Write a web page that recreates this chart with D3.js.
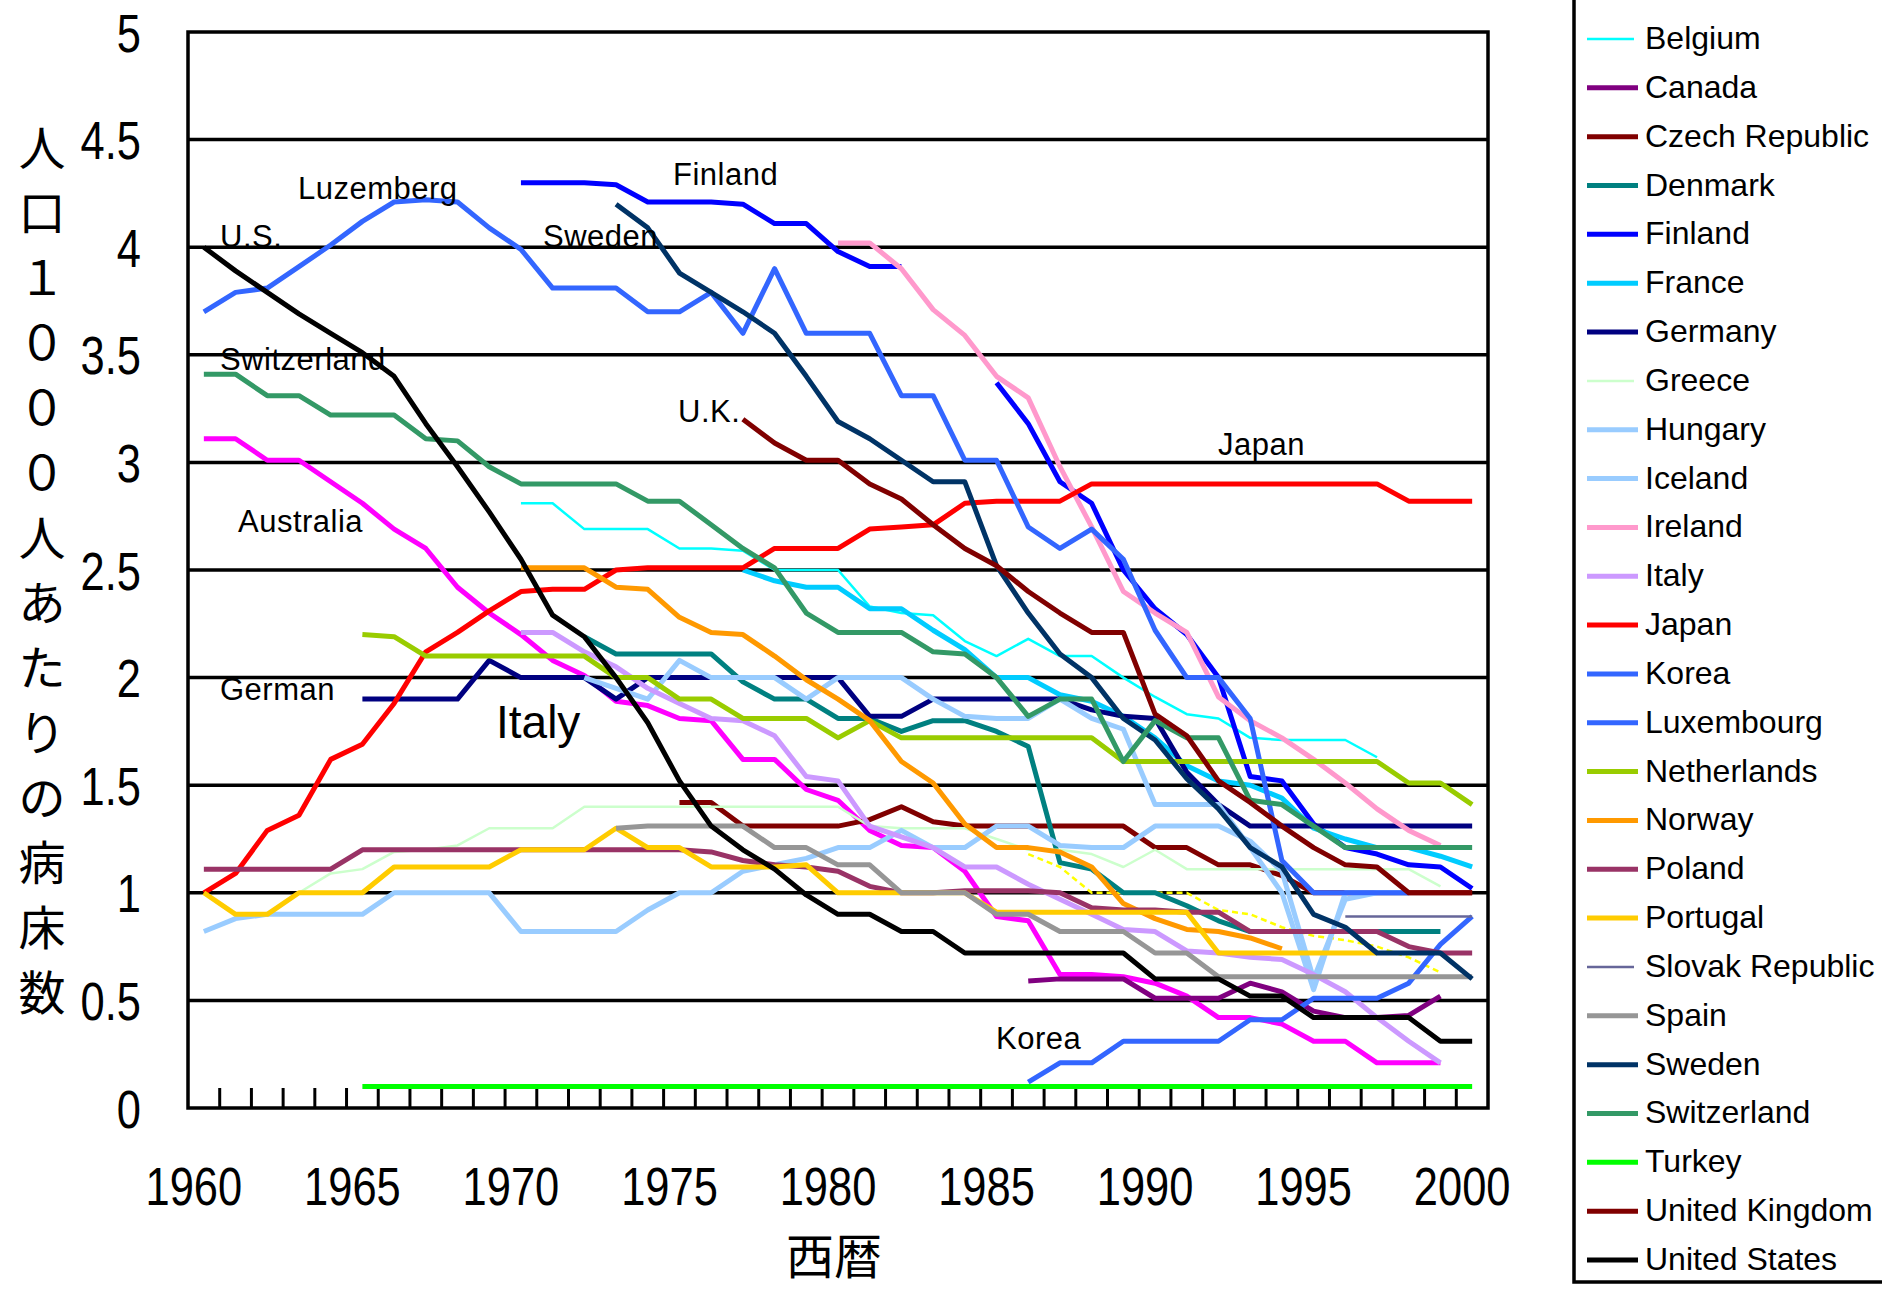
<!DOCTYPE html>
<html><head><meta charset="utf-8">
<script src="https://cdn.jsdelivr.net/npm/d3@7"></script>
<style>body{margin:0;background:#fff}svg{display:block}</style>
</head><body>
<svg id="chart" width="1882" height="1291"></svg>
<script>
// ---------- categories & ticks ----------
const years = d3.range(1960, 2001);
const yTickValues = [0,0.5,1,1.5,2,2.5,3,3.5,4,4.5,5];
const yTickLabels = ["0","0.5","1","1.5","2","2.5","3","3.5","4","4.5","5"];
const xTickYears = [1960,1965,1970,1975,1980,1985,1990,1995,2000];
const xTickLabels = ["1960","1965","1970","1975","1980","1985","1990","1995","2000"];
const yTitle = ["人","口","１","０","０","０","人","あ","た","り","の","病","床","数"];
const xTitle = "西暦";

// ---------- series values (beds per 1000) ----------
const australia = [3.11,3.11,3.01,3.01,2.91,2.81,2.69,2.6,2.42,2.3,2.2,2.08,2.01,1.89,1.87,1.81,1.8,1.62,1.62,1.48,1.43,1.29,1.22,1.21,1.1,0.89,0.87,0.62,0.62,0.61,0.58,0.52,0.42,0.42,0.39,0.31,0.31,0.21,0.21,0.21];
const austria = [1.18,1.12,1.0,1.0,1.0,1.0,0.92,0.9,0.84,0.8,0.78,0.75,0.7,0.63];
const belgium = [2.81,2.81,2.69,2.69,2.69,2.6,2.6,2.59,2.5,2.5,2.5,2.33,2.3,2.29,2.17,2.1,2.18,2.1,2.1,2.0,1.91,1.83,1.81,1.72,1.71,1.71,1.71,1.63];
const canada = [0.59,0.6,0.6,0.6,0.51,0.51,0.51,0.58,0.54,0.45,0.42,0.42,0.43,0.52];
const czech = [1.42,1.42,1.31,1.31,1.31,1.31,1.34,1.4,1.33,1.31,1.31,1.31,1.31,1.31,1.31,1.21,1.21,1.13,1.13,1.08,1.0,1.0,1.0,1.0,1.0,1.0];
const denmark = [2.19,2.11,2.11,2.11,2.11,1.98,1.9,1.9,1.81,1.81,1.75,1.8,1.8,1.75,1.68,1.14,1.11,1.0,1.0,0.94,0.87,0.82,0.82,0.82,0.82,0.82,0.82,0.82];
const finland = [4.3,4.3,4.3,4.29,4.21,4.21,4.21,4.2,4.11,4.11,3.98,3.91,3.91,null,null,3.37,3.18,2.91,2.81,2.5,2.32,2.2,2.0,1.54,1.52,1.32,1.21,1.18,1.13,1.12,1.02];
const france = [2.5,2.45,2.42,2.42,2.32,2.32,2.22,2.13,2.0,2.0,1.92,1.89,1.82,1.72,1.59,1.52,1.5,1.44,1.3,1.25,1.21,1.21,1.17,1.12];
const germany = [1.9,1.9,1.9,1.9,2.08,2.0,2.0,2.0,1.9,2.0,2.0,2.0,2.0,2.0,2.0,2.0,1.82,1.82,1.9,1.9,1.9,1.9,1.9,1.85,1.82,1.81,1.56,1.41,1.31,1.31,1.31,1.31,1.31,1.31,1.31,1.31];
const greece = [1.0,1.09,1.11,1.19,1.2,1.22,1.3,1.3,1.3,1.4,1.4,1.4,1.4,1.4,1.4,1.4,1.4,1.4,1.31,1.3,1.3,1.3,1.25,1.2,1.2,1.18,1.12,1.2,1.11,1.11,1.11,1.11,1.11,1.11,1.11,1.11,1.03];
const hungary = [0.82,0.88,0.9,0.9,0.9,0.9,1.0,1.0,1.0,1.0,0.82,0.82,0.82,0.82,0.92,1.0,1.0,1.1,1.13,1.16,1.21,1.21,1.29,1.21,1.21,1.31,1.31,1.22,1.21,1.21,1.31,1.31,1.31,1.24,1.1,0.6,0.97,1.0,1.0];
const iceland = [2.0,1.95,1.9,2.08,2.0,2.0,2.0,1.9,2.0,2.0,2.0,1.9,1.82,1.81,1.81,1.9,1.81,1.76,1.41,1.41,1.41,1.21,1.0,0.55,1.0,1.0,1.0];
const ireland = [4.02,4.02,3.9,3.71,3.59,3.4,3.3,2.98,2.7,2.4,2.3,2.21,1.91,1.8,1.72,1.62,1.51,1.39,1.29,1.22];
const italy = [2.21,2.21,2.12,2.05,1.95,1.88,1.81,1.8,1.73,1.54,1.52,1.31,1.26,1.21,1.12,1.12,1.04,0.97,0.9,0.83,0.82,0.73,0.72,0.7,0.69,0.62,0.54,0.42,0.31,0.21];
const japan = [1.0,1.09,1.29,1.36,1.62,1.69,1.88,2.12,2.21,2.31,2.4,2.41,2.41,2.5,2.51,2.51,2.51,2.51,2.6,2.6,2.6,2.69,2.7,2.71,2.81,2.82,2.82,2.82,2.9,2.9,2.9,2.9,2.9,2.9,2.9,2.9,2.9,2.9,2.82,2.82,2.82];
const korea = [0.12,0.21,0.21,0.31,0.31,0.31,0.31,0.41,0.41,0.51,0.51,0.51,0.58,0.76,0.89];
const luxembourg = [3.7,3.79,3.81,3.91,4.01,4.12,4.21,4.22,4.21,4.09,3.99,3.81,3.81,3.81,3.7,3.7,3.79,3.6,3.9,3.6,3.6,3.6,3.31,3.31,3.01,3.01,2.7,2.6,2.69,2.55,2.22,2.0,2.0,1.81,1.15,1.0,1.0,1.0,1.0];
const netherlands = [2.2,2.19,2.1,2.1,2.1,2.1,2.1,2.1,2.0,2.0,1.9,1.9,1.81,1.81,1.81,1.72,1.8,1.72,1.72,1.72,1.72,1.72,1.72,1.72,1.61,1.61,1.61,1.61,1.61,1.61,1.61,1.61,1.61,1.51,1.51,1.41];
const norway = [2.51,2.51,2.51,2.42,2.41,2.28,2.21,2.2,2.1,1.99,1.9,1.8,1.61,1.51,1.32,1.21,1.21,1.19,1.12,0.95,0.88,0.83,0.82,0.79,0.74];
const poland = [1.11,1.11,1.11,1.11,1.11,1.2,1.2,1.2,1.2,1.2,1.2,1.2,1.2,1.2,1.2,1.2,1.19,1.15,1.13,1.12,1.1,1.03,1.0,1.0,1.01,1.01,1.01,1.0,0.93,0.92,0.92,0.91,0.91,0.82,0.82,0.82,0.82,0.82,0.75,0.72,0.72];
const portugal = [1.0,0.9,0.9,1.0,1.0,1.0,1.12,1.12,1.12,1.12,1.2,1.2,1.2,1.3,1.21,1.21,1.12,1.12,1.12,1.13,1.0,1.0,1.0,1.0,1.0,0.91,0.91,0.91,0.91,0.91,0.91,0.91,0.72,0.72,0.72,0.72,0.72,0.72];
const slovak = [0.89,0.89,0.89,0.89,0.89];
const spain = [1.3,1.31,1.31,1.31,1.31,1.21,1.21,1.13,1.13,1.0,1.0,1.0,0.9,0.9,0.82,0.82,0.82,0.72,0.72,0.61,0.61,0.61,0.61,0.61,0.61,0.61,0.61,0.61];
const sweden = [4.2,4.09,3.88,3.79,3.7,3.6,3.4,3.19,3.11,3.01,2.91,2.91,2.52,2.3,2.11,2.0,1.81,1.71,1.53,1.39,1.21,1.12,0.9,0.84,0.72,0.72,0.72,0.6];
const switzerland = [3.41,3.41,3.31,3.31,3.22,3.22,3.22,3.11,3.1,2.98,2.9,2.9,2.9,2.9,2.82,2.82,2.71,2.6,2.51,2.3,2.21,2.21,2.21,2.12,2.11,2.0,1.82,1.9,1.9,1.61,1.8,1.72,1.72,1.43,1.41,1.31,1.21,1.21,1.21,1.21,1.21];
const turkey = [0.1,0.1,0.1,0.1,0.1,0.1,0.1,0.1,0.1,0.1,0.1,0.1,0.1,0.1,0.1,0.1,0.1,0.1,0.1,0.1,0.1,0.1,0.1,0.1,0.1,0.1,0.1,0.1,0.1,0.1,0.1,0.1,0.1,0.1,0.1,0.1];
const uk = [3.2,3.09,3.01,3.01,2.9,2.83,2.71,2.6,2.52,2.4,2.3,2.21,2.21,1.83,1.73,1.52,1.42,1.31,1.21,1.13,1.12,1.0,1.0,1.0];
const us = [4.0,3.89,3.79,3.69,3.6,3.51,3.4,3.18,2.98,2.77,2.55,2.29,2.19,2.0,1.79,1.52,1.31,1.2,1.11,0.99,0.9,0.9,0.82,0.82,0.72,0.72,0.72,0.72,0.72,0.72,0.6,0.6,0.6,0.52,0.52,0.42,0.42,0.42,0.42,0.31,0.31];

// series names (legend / drawing order) with first year of data
const seriesNames = ["Australia","Austria","Belgium","Canada","Czech Republic","Denmark","Finland","France","Germany","Greece","Hungary","Iceland","Ireland","Italy","Japan","Korea","Luxembourg","Netherlands","Norway","Poland","Portugal","Slovak Republic","Spain","Sweden","Switzerland","Turkey","United Kingdom","United States"];
const seriesValues = [australia,austria,belgium,canada,czech,denmark,finland,france,germany,greece,hungary,iceland,ireland,italy,japan,korea,luxembourg,netherlands,norway,poland,portugal,slovak,spain,sweden,switzerland,turkey,uk,us];
const seriesStart = [1960,1986,1970,1986,1975,1972,1970,1977,1965,1963,1960,1972,1980,1970,1960,1986,1960,1965,1970,1960,1960,1996,1973,1973,1960,1965,1977,1960];

// ---------- styles ----------
const seriesColor = ["#FF00FF","#FFFF00","#00FFFF","#800080","#800000","#008080","#0000FF","#00CCFF","#000080","#CCFFCC","#99CCFF","#99CCFF","#FF99CC","#CC99FF","#FF0000","#3366FF","#3366FF","#99CC00","#FF9900","#993366","#FFCC00","#666699","#969696","#003366","#339966","#00FF00","#800000","#000000"];
const thinSeries = new Set(["Austria","Belgium","Greece","Slovak Republic"]);

const svg = d3.select("#chart");
const L = 188, R = 1488;
const x = d3.scaleBand().domain(years).range([L, R]);
const y = d3.scaleLinear().domain([0, 5]).range([1108, 32]);
const cx = yr => x(yr) + x.bandwidth() / 2;

// gridlines
svg.append("g").selectAll("line")
  .data(yTickValues.filter(v => v > 0 && v < 5)).join("line")
  .attr("x1", L).attr("x2", R).attr("y1", d => y(d)).attr("y2", d => y(d))
  .attr("stroke", "#000").attr("stroke-width", 3.5);
// plot frame
svg.append("rect").attr("x", L).attr("y", y(5)).attr("width", R - L).attr("height", y(0) - y(5))
  .attr("fill", "none").attr("stroke", "#000").attr("stroke-width", 3.5);
// inner category tick marks
svg.append("g").selectAll("line").data(years.slice(1)).join("line")
  .attr("x1", d => x(d)).attr("x2", d => x(d)).attr("y1", y(0)).attr("y2", y(0) - 20)
  .attr("stroke", "#000").attr("stroke-width", 3);

// series
const line = d3.line().defined(d => d.v != null).x(d => cx(d.yr)).y(d => y(d.v));
const gS = svg.append("g");
seriesNames.forEach((name, i) => {
  const pts = seriesValues[i].map((v, k) => ({ yr: seriesStart[i] + k, v }));
  const p = gS.append("path").datum(pts).attr("d", line)
    .attr("fill", "none").attr("stroke", seriesColor[i])
    .attr("stroke-width", thinSeries.has(name) ? 2.5 : 5)
    .attr("stroke-linejoin", "round");
  if (name === "Austria") p.attr("stroke-dasharray", "6,4");
});

// y axis labels
const yAxis = svg.append("g").attr("transform", `translate(${L},0)`)
  .call(d3.axisLeft(y).tickValues(yTickValues).tickFormat((d, i) => yTickLabels[i]).tickSize(0));
yAxis.select(".domain").remove();
yAxis.selectAll("text").attr("font-family", "Liberation Sans").attr("font-size", 53).attr("fill", "#000")
  .attr("x", -47 / 0.82).attr("dy", "0.36em").attr("transform", "scale(0.82,1)");

// x axis labels
const xAxis = svg.append("g").attr("transform", `translate(0,${y(0)})`)
  .call(d3.axisBottom(x).tickValues(xTickYears).tickFormat((d, i) => xTickLabels[i]).tickSize(0));
xAxis.select(".domain").remove();
xAxis.selectAll("text").attr("font-family", "Liberation Sans").attr("font-size", 53).attr("fill", "#000")
  .attr("y", 97).attr("dy", 0).attr("x", -10 / 0.82).attr("transform", "scale(0.82,1)");

// axis titles
const yt = svg.append("text").attr("font-family", "Noto Sans CJK JP").attr("font-size", 47)
  .attr("text-anchor", "middle").attr("fill", "#000");
yTitle.forEach((c, i) => yt.append("tspan").attr("x", 42).attr("y", 148 + i * 65 + 17).text(c));
svg.append("text").attr("x", 834).attr("y", 1274).attr("text-anchor", "middle")
  .attr("font-family", "Noto Sans CJK JP").attr("font-size", 48).attr("fill", "#000").text(xTitle);

// in-plot annotations
const notes = [
  ["U.S.", 220, 247], ["Luzemberg", 298, 199], ["Finland", 673, 185], ["Sweden", 543, 247],
  ["Switzerland", 220, 370], ["U.K.", 678, 422], ["Japan", 1218, 455], ["Australia", 238, 532],
  ["German", 220, 700], ["Korea", 996, 1049]
];
svg.append("g").selectAll("text").data(notes).join("text")
  .attr("x", d => d[1]).attr("y", d => d[2]).text(d => d[0])
  .attr("font-family", "Liberation Sans").attr("font-size", 31).attr("letter-spacing", 0.5).attr("fill", "#000");
svg.append("text").attr("x", 496).attr("y", 738).text("Italy")
  .attr("font-family", "Liberation Sans").attr("font-size", 46).attr("fill", "#000");

// legend (its top runs off the picture, as in the original)
const lg = svg.append("g");
lg.append("rect").attr("x", 1574).attr("y", -400).attr("width", 420).attr("height", 1682)
  .attr("fill", "#fff").attr("stroke", "#000").attr("stroke-width", 3.5);
seriesNames.forEach((name, i) => {
  const yy = 39 + (i - 2) * 48.84;
  if (yy < -30) return; // entirely above the visible picture
  const thin = thinSeries.has(name);
  const l = lg.append("line").attr("x1", 1587).attr("x2", thin ? 1634 : 1638).attr("y1", yy).attr("y2", yy)
    .attr("stroke", seriesColor[i]).attr("stroke-width", thin ? 2.5 : 5);
  if (name === "Austria") l.attr("stroke-dasharray", "6,4");
  lg.append("text").attr("x", 1645).attr("y", yy + 10).text(name)
    .attr("font-family", "Liberation Sans").attr("font-size", 32).attr("fill", "#000");
});
</script>
</body></html>
